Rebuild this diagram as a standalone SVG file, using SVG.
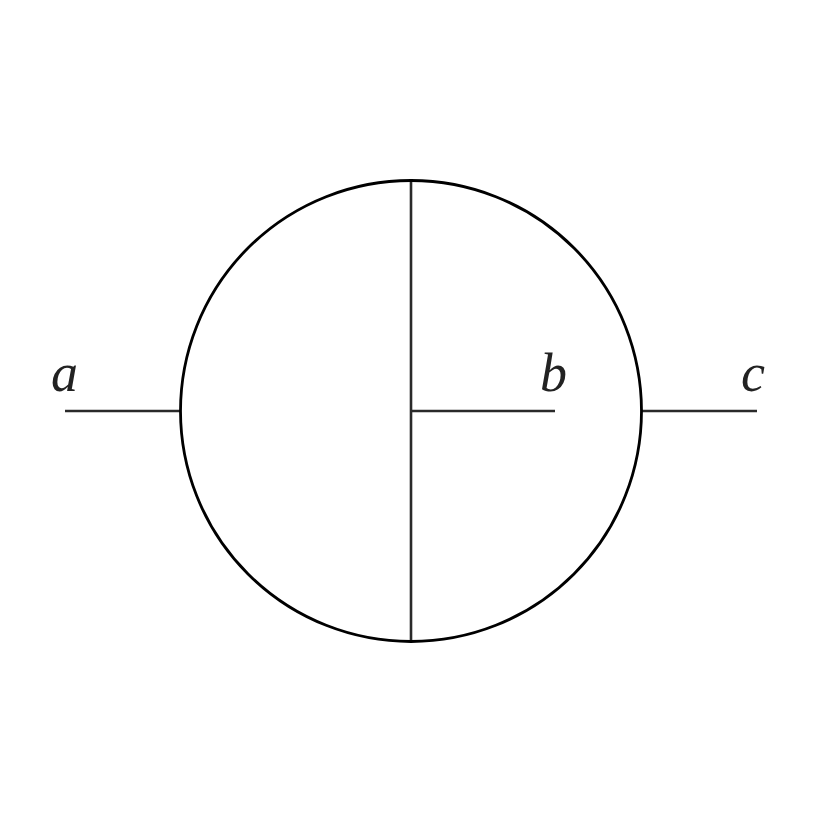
<svg xmlns="http://www.w3.org/2000/svg" width="830" height="830" viewBox="0 0 830 830">
<style>
.w{stroke:#2a2a2a;stroke-width:2.6;fill:none}
.lbl{font-family:"Liberation Serif","DejaVu Serif",serif;font-style:italic;font-size:54px;fill:#222}
</style>
<rect width="830" height="830" fill="#fff"/>
<g id="connectors">
<line class="w" x1="65" y1="411" x2="181" y2="411"/>
<line class="w" x1="411" y1="411" x2="555" y2="411"/>
<line class="w" x1="641" y1="411" x2="757" y2="411"/>
<line class="w" x1="411" y1="181" x2="411" y2="641"/>
</g>
<g id="loop"><circle cx="411" cy="411" r="230.5" fill="none" stroke="#000" stroke-width="2.8"/></g>
<g id="label-a"><text class="lbl" x="51" y="391">a</text></g>
<g id="label-b"><text class="lbl" x="540" y="391">b</text></g>
<g id="label-c"><text class="lbl" x="741" y="391">c</text></g>
</svg>
